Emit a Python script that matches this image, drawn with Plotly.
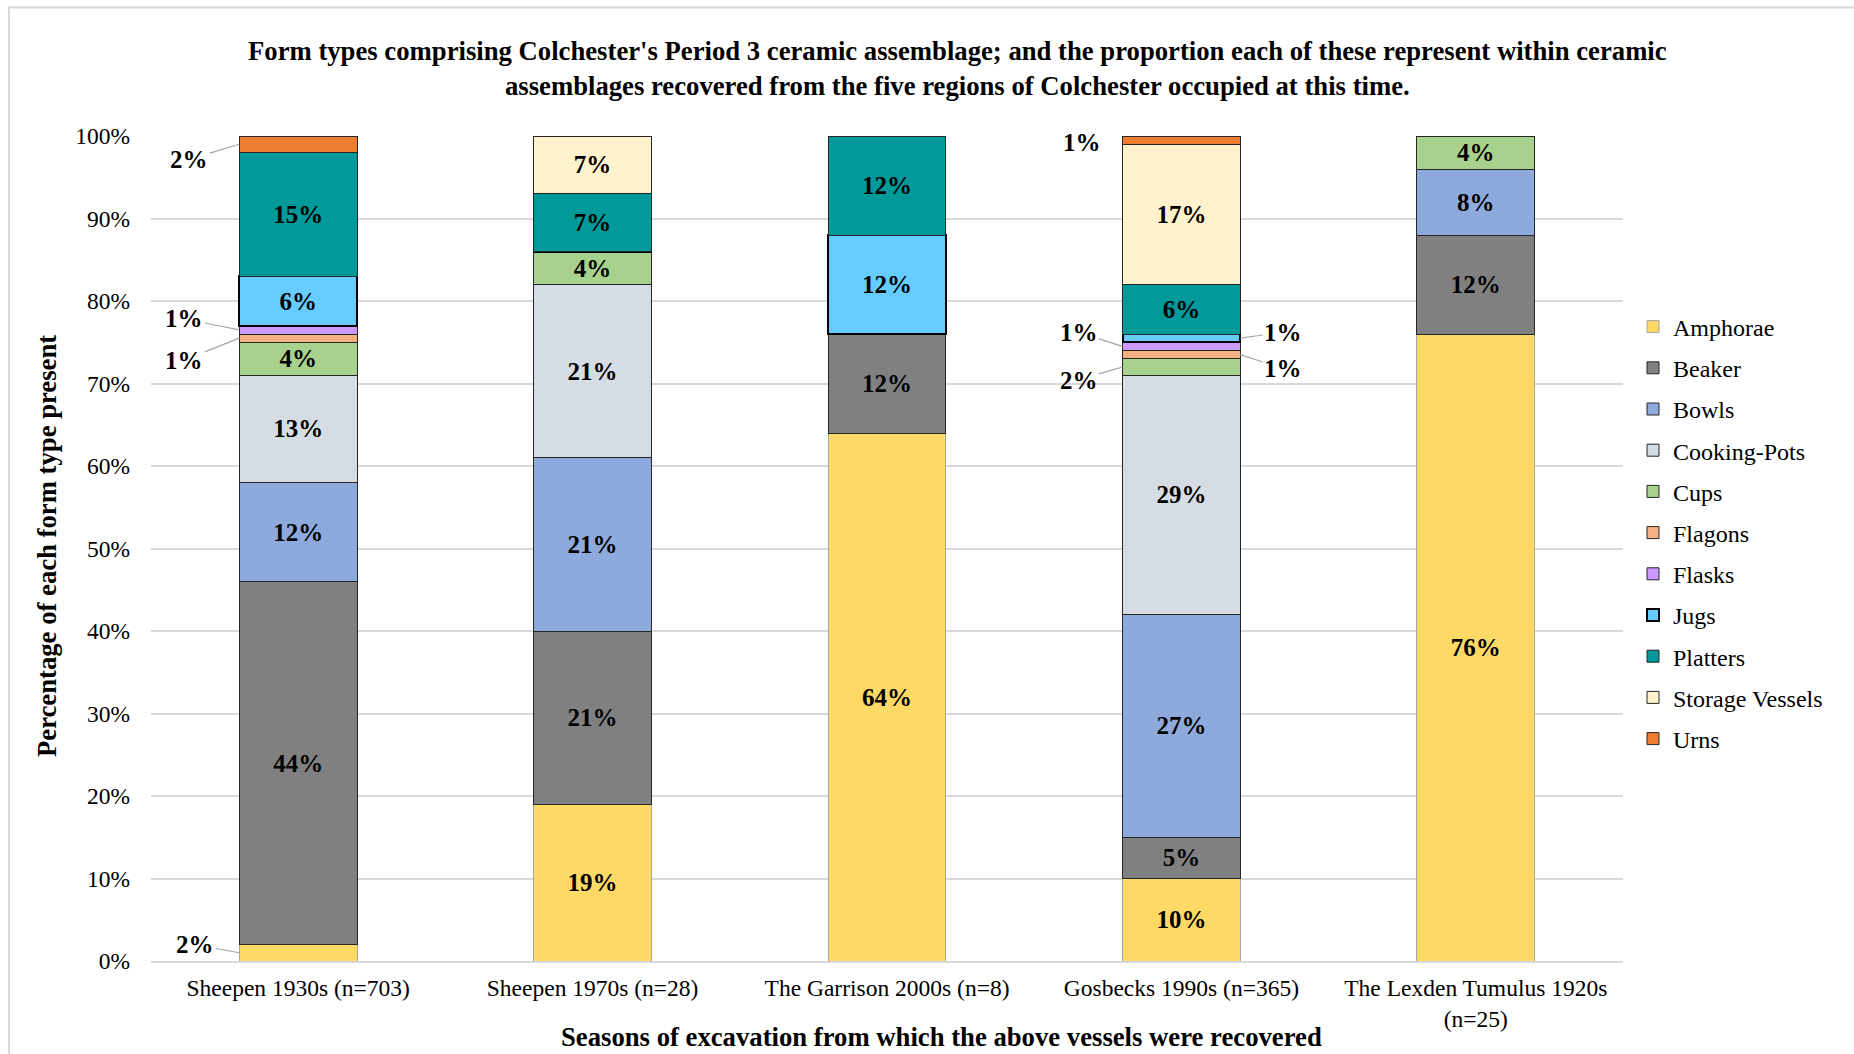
import plotly.graph_objects as go

categories = ["Sheepen 1930s (n=703)", "Sheepen 1970s (n=28)", "The Garrison 2000s (n=8)",
              "Gosbecks 1990s (n=365)", "The Lexden Tumulus 1920s<br>(n=25)"]

amphorae = [2, 19, 64, 10, 76]
beaker = [44, 21, 12, 5, 12]
bowls = [12, 21, 0, 27, 8]
cooking_pots = [13, 21, 0, 29, 0]
cups = [4, 4, 0, 2, 4]
flagons = [1, 0, 0, 1, 0]
flasks = [1, 0, 0, 1, 0]
jugs = [6, 0, 12, 1, 0]
platters = [15, 7, 12, 6, 0]
storage_vessels = [0, 7, 0, 17, 0]
urns = [2, 0, 0, 1, 0]

series = [
    ("Amphorae", amphorae, "#FFD966", "#a6a6a6", 1),
    ("Beaker", beaker, "#808080", "#262626", 1),
    ("Bowls", bowls, "#8EA9DB", "#262626", 1),
    ("Cooking-Pots", cooking_pots, "#D6DCE4", "#262626", 1),
    ("Cups", cups, "#A9D18E", "#262626", 1),
    ("Flagons", flagons, "#F4B183", "#262626", 1),
    ("Flasks", flasks, "#CC99FF", "#262626", 1),
    ("Jugs", jugs, "#66CCFF", "#000000", 2),
    ("Platters", platters, "#009999", "#262626", 1),
    ("Storage Vessels", storage_vessels, "#FFF2CC", "#262626", 1),
    ("Urns", urns, "#ED7D31", "#262626", 1),
]

FONT = "Liberation Serif, Times New Roman, serif"
INSIDE_MIN = 3  # values shown inside the bar
LABEL_SIZE = 25
TITLE_SIZE = 26.7
TICK_SIZE = 23.5

fig = go.Figure()
for name, vals, color, lc, lw in series:
    texts = [f"<b>{v}%</b>" if v >= INSIDE_MIN else "" for v in vals]
    fig.add_trace(go.Bar(
        name=name, x=categories, y=vals,
        marker=dict(color=color, line=dict(color=lc, width=lw)),
        text=texts, textposition="inside", insidetextanchor="middle", textangle=0,
        textfont=dict(family=FONT, size=LABEL_SIZE, color="black"),
        legendgroup=name, hoverinfo="name+y",
    ))

# small segments labelled outside with leader lines: (category index, series, side, ax, ay)
small_labels = [
    (0, "Amphorae", -1, -44, -8),
    (0, "Flagons", -1, -55, 22),
    (0, "Flasks", -1, -55, -11),
    (0, "Urns", -1, -50, 15),
    (3, "Flasks", -1, -44, -14),
    (3, "Jugs", 1, 43, -6),
    (3, "Flagons", 1, 43, 14),
    (3, "Cups", -1, -44, 13),
]
order = [s[0] for s in series]
vals_by = {s[0]: s[1] for s in series}

def seg_mid(ci, nm):
    k = order.index(nm)
    below = sum(vals_by[order[j]][ci] for j in range(k))
    return below + vals_by[nm][ci] / 2.0

annotations = []
for ci, nm, side, ax, ay in small_labels:
    annotations.append(dict(
        x=ci + 0.2 * side, y=seg_mid(ci, nm), xref="x", yref="y",
        text=f"<b>{vals_by[nm][ci]}%</b>", showarrow=True, arrowhead=0,
        arrowwidth=1.2, arrowcolor="#a6a6a6", ax=ax, ay=ay, standoff=0,
        font=dict(family=FONT, size=LABEL_SIZE, color="black")))
# Gosbecks urns label without leader
annotations.append(dict(
    x=3 - 0.2, y=seg_mid(3, "Urns"), xref="x", yref="y", xshift=-41, yshift=-2,
    text=f"<b>{vals_by['Urns'][3]}%</b>", showarrow=False,
    font=dict(family=FONT, size=LABEL_SIZE, color="black")))

# titles
annotations.append(dict(
    x=0.548, y=(961 - 69) / 825, xref="paper", yref="paper", showarrow=False,
    xanchor="center", yanchor="middle",
    text="<b>Form types comprising Colchester's Period 3 ceramic assemblage; and the proportion each of these represent within ceramic<br>assemblages recovered from the five regions of Colchester occupied at this time.</b>",
    font=dict(family=FONT, size=TITLE_SIZE, color="black"), align="center"))
annotations.append(dict(
    x=(941 - 151) / 1472, y=(961 - 1037) / 825, xref="paper", yref="paper", showarrow=False,
    xanchor="center", yanchor="middle",
    text="<b>Seasons of excavation from which the above vessels were recovered</b>",
    font=dict(family=FONT, size=TITLE_SIZE, color="black")))
annotations.append(dict(
    x=(47 - 151) / 1472, y=(961 - 546) / 825, xref="paper", yref="paper", showarrow=False,
    xanchor="center", yanchor="middle",
    text="<b>Percentage of each form type present</b>", textangle=-90,
    font=dict(family=FONT, size=TITLE_SIZE, color="black")))

fig.update_layout(
    width=1854, height=1054,
    margin=dict(l=151, r=231, t=136, b=93),
    barmode="stack", bargap=0.6,
    plot_bgcolor="white", paper_bgcolor="white",
    font=dict(family=FONT, size=TICK_SIZE, color="black"),
    uniformtext=dict(minsize=LABEL_SIZE, mode="show"),
    legend=dict(x=(1633 - 151) / 1472, xanchor="left", y=(961 - 533) / 825, yanchor="middle",
                traceorder="grouped", tracegroupgap=7,
                font=dict(family=FONT, size=24, color="black"), itemwidth=30),
    annotations=annotations,
    shapes=[dict(type="rect", xref="paper", yref="paper",
                 x0=(9 - 151) / 1472, x1=1.5, y0=-0.5, y1=(961 - 7.5) / 825,
                 line=dict(color="#d9d9d9", width=2), layer="below")],
)
fig.update_yaxes(range=[0, 100], dtick=10, ticksuffix="%", showgrid=True,
                 gridcolor="#d9d9d9", gridwidth=1.5, zeroline=False, showline=False,
                 ticklabelstandoff=20, tickfont=dict(family=FONT, size=TICK_SIZE))
fig.update_xaxes(showline=True, linecolor="#d9d9d9", linewidth=1.5, ticks="",
                 ticklabelstandoff=5, tickfont=dict(family=FONT, size=TICK_SIZE))

fig.write_html("out.html")
